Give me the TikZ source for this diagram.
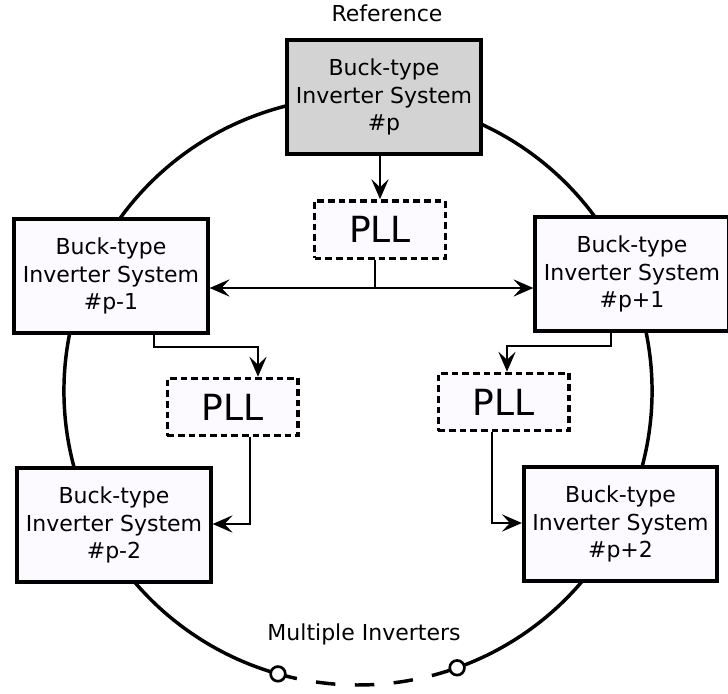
\documentclass[tikz,border=0pt]{standalone}
\usepackage{fontspec}
\setmainfont{DejaVu Sans}
\usetikzlibrary{arrows.meta}
\definecolor{boxfill}{RGB}{252,250,255}
\definecolor{refgray}{RGB}{211,211,211}
\begin{document}
\begin{tikzpicture}[x=0.75pt,y=-0.75pt,
  inv/.style={draw, line width=2.9pt, fill=boxfill, align=center,
    minimum width=145pt, minimum height=85.5pt, inner sep=0pt,
    font=\fontsize{16.5}{20.8}\selectfont},
  refbox/.style={inv, fill=refgray},
  pll/.style={draw, dash pattern=on 5pt off 3pt, line width=2.5pt,
    fill=boxfill, minimum width=98pt, minimum height=43pt, inner sep=0pt,
    font=\fontsize{27}{30}\selectfont},
  link/.style={line width=1.1pt, -{Stealth[length=15pt,width=13pt,inset=6pt]}},
  ring/.style={line width=2.6pt},
  port/.style={circle, draw, line width=2pt, fill=white, minimum size=11pt, inner sep=0pt},
  caption/.style={font=\fontsize{16.5}{20}\selectfont}
]
\useasboundingbox (0,0) rectangle (728,693);

% ring of inverters
\coordinate (cc) at (358,391);
\draw[ring] ([shift={(289.7:220.5pt)}]cc) arc[start angle=289.7, end angle=614.2, radius=220.5pt];
\draw[ring, dash pattern=on 14.6pt off 14.6pt] ([shift={(254.2:220.5pt)}]cc) arc[start angle=254.2, end angle=289.7, radius=220.5pt];
\node[port] (portL) at ([shift={(254.2:220.5pt)}]cc) {};
\node[port] (portR) at ([shift={(289.7:220.5pt)}]cc) {};

% inverter systems
\node[refbox] (ref) at (384,97)   {Buck-type\\Inverter System\\\#p};
\node[inv]    (pm1) at (111,276)  {Buck-type\\Inverter System\\\#p-1};
\node[inv]    (pp1) at (632,274)  {Buck-type\\Inverter System\\\#p+1};
\node[inv]    (pm2) at (114,525)  {Buck-type\\Inverter System\\\#p-2};
\node[inv]    (pp2) at (620.5,524) {Buck-type\\Inverter System\\\#p+2};

% phase-locked loops
\node[pll] (pllT) at (380,229.5) {PLL};
\node[pll] (pllL) at (232.5,407) {PLL};
\node[pll] (pllR) at (503.5,402) {PLL};

% labels
\node[caption] (lref) at (387,13) {Reference};
\node[caption] (lmul) at (364,634) {Multiple Inverters};

% synchronisation paths
\coordinate (split) at (375,288);
\draw[link] (ref.south -| pllT.north) -- (pllT.north);
\draw[line width=1.1pt] (pllT.south -| split) -- (split);
\draw[link] (split) -- (split -| pm1.east);
\draw[link] (split) -- (split -| pp1.west);

\coordinate (kL) at (154,347);
\coordinate (kL2) at (258,347);
\draw[link] (pm1.south -| kL) -- (kL) -- (kL2) -- (kL2 |- pllL.north);

\coordinate (kR) at (611,346);
\coordinate (kR2) at (507,346);
\draw[link] (pp1.south -| kR) -- (kR) -- (kR2) -- (kR2 |- pllR.north);

\coordinate (dL) at (250,524);
\draw[link] (pllL.south -| dL) -- (dL) -- (dL -| pm2.east);

\coordinate (dR) at (492,523);
\draw[link] (pllR.south -| dR) -- (dR) -- (dR -| pp2.west);
\end{tikzpicture}
\end{document}
